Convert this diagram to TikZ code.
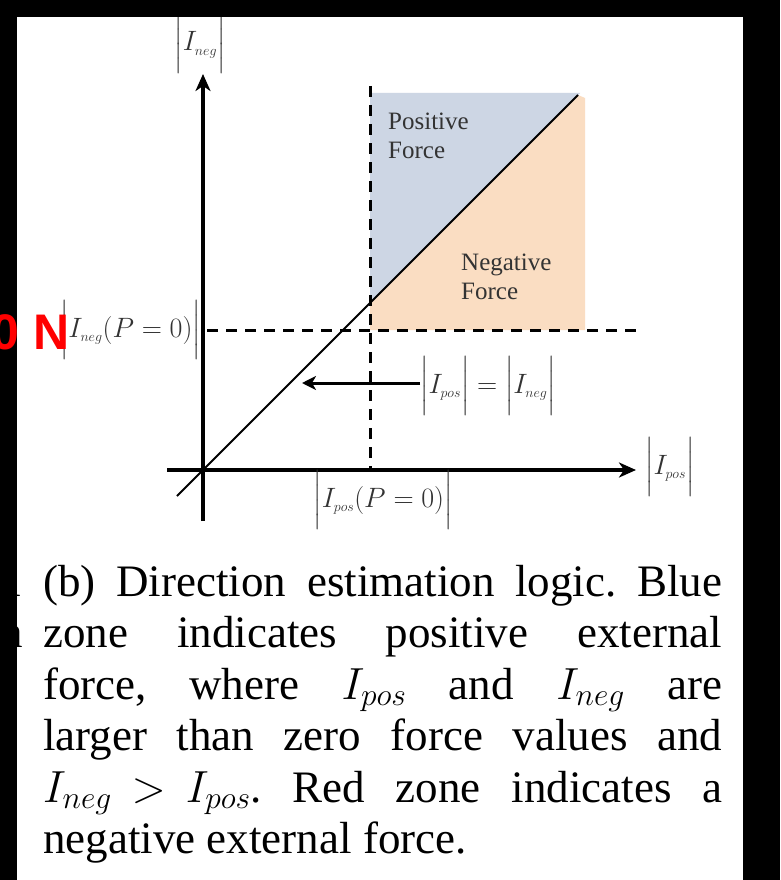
\RequirePackage{fix-cm}
\documentclass[tikz,border=0pt]{standalone}
\usepackage{amsmath}
\usepackage{fontspec}
\setmainfont{Liberation Serif}
\newfontfamily\redsans{Liberation Sans}
\usetikzlibrary{arrows.meta, positioning, calc}
\definecolor{posblue}{RGB}{205,214,228}
\definecolor{negorange}{RGB}{250,221,194}
\tikzset{
  axis/.style={line width=3.5pt, -{Stealth[length=17pt, width=15pt, inset=5pt]}},
  arr/.style={line width=3pt, -{Stealth[length=14pt, width=14pt, inset=4pt]}},
  guide/.style={line width=3pt, dash pattern=on 11pt off 8pt},
  diag/.style={line width=1.8pt},
  lbl/.style={inner sep=0pt, text=black!80, font=\fontsize{28}{32}\selectfont},
  zonetxt/.style={inner sep=0pt, align=left, text=black!80, font=\fontsize{25}{29}\selectfont},
  capline/.style={inner sep=0pt, anchor=base west, font=\fontsize{45}{52}\selectfont},
}

\begin{document}
\frenchspacing
\begin{tikzpicture}[x=1pt, y=-1pt]
  \useasboundingbox (0,0) rectangle (780,880);
  \fill[white] (0,0) rectangle (780,880);

  % points of the plot
  \coordinate (O) at (203,470);
  \coordinate (ytop) at (203,74);
  \coordinate (ybot) at (203,521);
  \coordinate (xleft) at (167,470);
  \coordinate (xright) at (636,470);
  \coordinate (dlo) at (177,496);
  \coordinate (dhi) at (578,95);
  \coordinate (vtop) at (370,86);
  \coordinate (vbot) at (370,470);
  \coordinate (hleft) at (207,330);
  \coordinate (hright) at (636,330);
  \coordinate (cross) at (370,303);
  \coordinate (arrtip) at (302,383);

  % zones
  \fill[posblue] (cross) -- (370,93) -- (580,93) -- (dhi) -- cycle;
  \fill[negorange] (cross) -- (dhi) -- (585,98) -- (585,330) -- (370,330) -- cycle;

  \draw[guide] (vtop) -- (vbot);
  \draw[guide] (hleft) -- (hright);
  \draw[diag] (dlo) -- (dhi);
  \draw[axis] (ybot) -- (ytop);
  \draw[axis] (xleft) -- (xright);

  \node[zonetxt, anchor=north west] (postxt) at (388,113) {Positive\\Force};
  \node[zonetxt, anchor=north west] (negtxt) at (461,254) {Negative\\Force};

  \node[lbl] (ineg) at (200,44) {$\Big|I_{\scriptscriptstyle neg}\Big|$};
  \node[lbl, anchor=west] (ipos) at (645,467) {$\Big|I_{\scriptscriptstyle pos}\Big|$};
  \node[lbl, anchor=east] (negzero) at (201,330) {$\Big|I_{\scriptscriptstyle neg}(P=0)\Big|$};
  \node[lbl] (poszero) at (383,500) {$\Big|I_{\scriptscriptstyle pos}(P=0)\Big|$};
  \node[lbl, anchor=west] (equal) at (420,386) {$\Big|I_{\scriptscriptstyle pos}\Big|=\Big|I_{\scriptscriptstyle neg}\Big|$};
  \draw[arr] (equal.west |- arrtip) -- (arrtip);

  % caption
  \node[capline, anchor=base east] (cut1) at (23,596) {1};
  \node[capline, anchor=base east] (cut2) at (23,647.5) {n};
  \node[capline] (cap1) at (43,596) {\makebox[679pt][s]{(b) Direction estimation logic. Blue}};
  \node[capline] (cap2) at (43,647.5) {\makebox[679pt][s]{zone indicates positive external}};
  \node[capline] (cap3) at (43,699) {\makebox[679pt][s]{force, where $I_{pos}$ and $I_{neg}$ are}};
  \node[capline] (cap4) at (43,750.5) {\makebox[679pt][s]{larger than zero force values and}};
  \node[capline] (cap5) at (43,802) {\makebox[679pt][s]{$I_{neg}\mskip8mu{>}\mskip8mu I_{pos}$. Red zone indicates a}};
  \node[capline] (cap6) at (43,853.5) {negative external force.};

  % black frame of the screenshot
  \fill[black] (0,0) rectangle (780,17);
  \fill[black] (0,0) rectangle (17,880);
  \fill[black] (743,0) rectangle (780,880);

  \node[inner sep=0pt, anchor=base east, text=red, font=\redsans\bfseries\fontsize{50}{50}\selectfont] (zeron) at (70,349) {0 N};
\end{tikzpicture}
\end{document}
